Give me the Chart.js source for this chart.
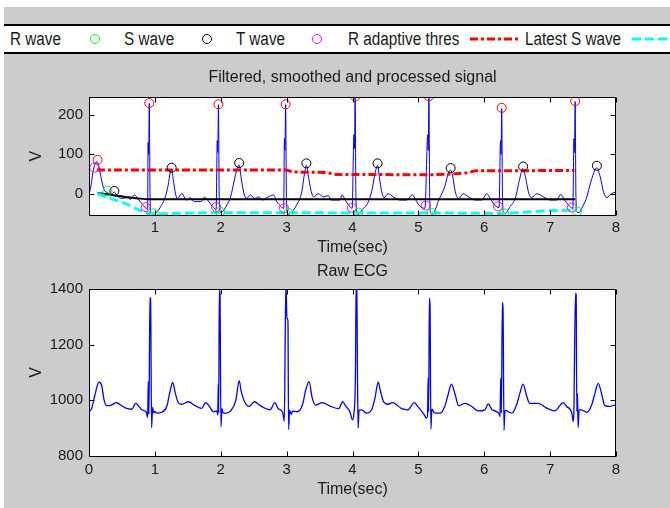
<!DOCTYPE html>
<html>
<head>
<meta charset="utf-8">
<title>ECG</title>
<script src="https://cdn.jsdelivr.net/npm/chart.js"></script>
<style>
  html, body { margin: 0; padding: 0; }
  body { width: 670px; height: 508px; background: #cccccc; position: relative; overflow: hidden;
         font-family: "Liberation Sans", Arial, sans-serif; }
  #topStrip { position: absolute; left: 0; top: 0; width: 670px; height: 7px; background: #fff; }
  #leftStrip { position: absolute; left: 0; top: 0; width: 4px; height: 508px; background: #fff; }
  #legend { position: absolute; left: 4px; top: 24px; width: 700px; height: 26px; background: #fff;
            border-top: 2px solid #000; border-bottom: 2px solid #000; }
  #lgIcons { position: absolute; left: 0; top: 26px; }
  .lg { position: absolute; top: 29px; font-size: 18px; line-height: 20px; color: #1a1a1a;
        transform: scaleX(0.85); transform-origin: 0 0; white-space: nowrap; }
  canvas { position: absolute; left: 0; }
</style>
</head>
<body>
<div id="topStrip"></div>
<div id="leftStrip"></div>
<div id="legend"></div>
<svg id="lgIcons" width="670" height="26"></svg>
<canvas id="filtChart" width="670" height="200" style="top:60px"></canvas>
<canvas id="rawChart" width="670" height="248" style="top:260px"></canvas>
<script>
// ---- data ----
const legendLabels = ['R wave', 'S wave', 'T wave', 'R adaptive thres', 'Latest S wave'];

// filtered, smoothed and processed signal
const filtTime = [0.00,0.03,0.06,0.09,0.12,0.15,0.19,0.23,0.28,0.33,0.385,0.43,0.50,0.57,0.63,0.69,0.74,0.80,0.86,0.89,
  0.897,0.905,0.915,0.927,0.945,0.98,1.03,1.08,1.15,1.20,1.235,1.255,1.28,1.31,1.34,1.41,1.48,1.53,1.60,1.70,1.75,1.80,1.88,1.93,
  1.947,1.955,1.965,1.977,1.995,2.03,2.08,2.15,2.20,2.25,2.28,2.31,2.35,2.39,2.45,2.51,2.58,2.63,2.70,2.80,2.85,2.92,2.955,
  2.967,2.975,2.985,2.997,3.015,3.04,3.08,3.15,3.23,3.27,3.30,3.33,3.37,3.41,3.48,3.56,3.63,3.68,3.81,3.84,3.89,3.94,3.995,
  4.022,4.03,4.04,4.052,4.07,4.10,4.14,4.22,4.29,4.34,4.38,4.41,4.44,4.48,4.54,4.62,4.72,4.82,4.91,4.96,5.02,5.10,
  5.142,5.15,5.16,5.172,5.19,5.22,5.26,5.30,5.40,5.46,5.49,5.52,5.56,5.61,5.68,5.76,5.86,5.96,6.04,6.09,6.16,6.225,
  6.247,6.255,6.265,6.277,6.295,6.32,6.39,6.47,6.54,6.585,6.63,6.67,6.72,6.80,6.90,7.00,7.10,7.16,7.22,7.28,7.345,
  7.362,7.37,7.38,7.392,7.41,7.44,7.48,7.55,7.63,7.71,7.76,7.81,7.86,7.93,8.00];
const filtValue = [-3,20,55,75,81,70,35,10,3,-2,4,-6,-12,-10,-14,-3,-12,-25,-36,-40,
  130,100,229,-10,-50,-53,-47,-35,-12,20,55,61,35,2,-12,0,-16,-10,-20,-20,-9,-16,-33,-40,
  135,105,226,-10,-48,-45,-32,-8,30,65,73,40,2,-12,-3,-12,-8,-16,-10,-3,-20,-33,-38,
  140,110,226,-10,-50,-52,-46,-29,5,50,72,45,8,-8,0,-8,-5,-16,-16,-3,-16,-29,-37,
  150,115,245,-10,-51,-52,-41,-27,5,50,72,40,8,-10,0,-8,-16,-16,-3,-16,-31,-37,
  150,110,244,-10,-50,-52,-40,-20,18,55,60,45,5,-12,0,-8,-16,-16,0,-12,-29,-35,
  135,100,216,-10,-50,-50,-33,-12,39,64,39,5,-10,0,-8,-16,-16,-2,-16,-29,-37,
  140,105,234,-10,-47,-48,-37,-12,37,66,43,5,-10,0,5];

// detected points
const rWaveTime = [0.13, 0.915, 1.965, 2.985, 4.04, 5.16, 6.265, 7.38];
const rWaveValue = [86, 230, 227, 227, 247, 247, 218, 235];
const sWaveTime = [0.28, 0.98, 1.99, 3.03, 4.09, 5.20, 6.30, 7.41];
const sWaveValue = [7, -50, -46, -49, -48, -49, -50, -45];
const tWaveTime = [0.385, 1.255, 2.28, 3.30, 4.38, 5.49, 6.59, 7.71];
const tWaveValue = [7, 66, 78, 77, 77, 65, 69, 71];
const rThresTime = [0.08, 0.86, 1.93, 2.96, 3.99, 5.11, 6.21, 7.33];
const rThresValue = [66, -34, -34, -37, -36, -30, -32, -35];

// running levels
const dashDotTime = [0.12, 3.0, 3.1, 3.6, 3.75, 5.2, 5.5, 5.75, 5.85, 7.37];
const dashDotValue = [60, 60, 55, 54, 49, 48, 50, 53, 58, 59];
const cyanTime = [0.13, 0.55, 0.96, 2.0, 3.03, 4.09, 5.2, 6.3, 6.6, 7.0, 7.41];
const cyanValue = [0, -25, -51, -48, -48, -49, -49, -50, -47, -43, -42];
const blackTime = [0.13, 0.3, 0.45, 0.6, 0.75, 0.92, 2.0, 3.0, 4.0, 5.2, 6.3, 7.38];
const blackValue = [2, -2, -6, -9, -12, -14, -14, -14, -14, -14, -14, -14];

// raw ECG
const rawTime = [0.00,0.04,0.09,0.15,0.19,0.23,0.27,0.34,0.42,0.47,0.55,0.65,0.71,0.75,0.80,0.87,
  0.89,0.90,0.91,0.925,0.935,0.95,0.965,0.98,1.00,1.03,1.10,1.18,1.23,1.27,1.31,1.36,1.41,1.51,1.61,1.71,1.77,1.82,1.89,1.94,
  1.955,1.962,1.969,1.978,1.988,2.003,2.018,2.035,2.08,2.15,2.23,2.28,2.31,2.36,2.43,2.51,2.60,2.66,2.75,2.82,2.87,2.94,
  2.965,2.98,2.99,3.005,3.02,3.03,3.045,3.07,3.09,3.16,3.24,3.29,3.34,3.39,3.44,3.54,3.67,3.79,3.85,3.90,3.96,4.00,
  4.02,4.045,4.055,4.065,4.075,4.085,4.10,4.14,4.21,4.29,4.34,4.39,4.42,4.47,4.54,4.61,4.74,4.84,4.94,4.99,5.09,5.12,
  5.14,5.148,5.156,5.167,5.177,5.19,5.205,5.25,5.33,5.40,5.45,5.50,5.56,5.61,5.71,5.81,5.91,6.01,6.06,6.12,6.22,6.24,
  6.25,6.26,6.275,6.285,6.30,6.315,6.34,6.42,6.49,6.54,6.59,6.64,6.69,6.82,6.94,7.07,7.20,7.25,7.33,7.35,
  7.36,7.385,7.395,7.405,7.415,7.425,7.44,7.47,7.56,7.63,7.68,7.73,7.78,7.83,7.91,7.98,8.00];
const rawValue = [958,971,1019,1065,1055,1001,981,983,992,985,973,968,989,981,966,957,
  938,1067,950,1370,1365,902,975,955,960,954,957,978,1032,1064,1026,990,986,995,981,971,992,981,959,962,
  947,1058,955,1395,1390,905,970,955,954,962,1001,1071,1032,996,978,995,981,973,966,992,971,956,
  925,1265,1420,1295,1285,895,965,950,961,959,983,1037,1067,1007,983,992,978,970,995,978,960,930,
  950,1100,1420,1420,1109,900,965,966,954,966,1007,1065,1038,996,986,992,971,966,992,978,948,936,
  950,1080,960,1367,1340,897,968,954,954,978,1019,1058,1019,981,989,978,962,966,987,966,954,942,
  1079,955,1352,1330,892,965,962,954,983,1025,1058,1019,989,989,973,962,992,978,954,924,
  960,1385,1380,960,1025,902,966,966,957,983,1025,1061,1025,981,978,983,982];

// ticks
const timeTicksTop = [1, 2, 3, 4, 5, 6, 7, 8];
const timeTicksRaw = [0, 1, 2, 3, 4, 5, 6, 7, 8];
const filtYTicks = [0, 100, 200];
const rawYTicks = [800, 1000, 1200, 1400];

// ---- helpers ----
function xy(ts, vs) {
  return ts.map((t, i) => ({x: t, y: vs[i]}));
}

Chart.defaults.font.family = '"Liberation Sans", Arial, sans-serif';
Chart.defaults.font.size = 15;
Chart.defaults.color = '#1a1a1a';

// white axes area, black box, ticks pointing inside on all four sides
const matlabAxes = {
  id: 'matlabAxes',
  beforeDraw(chart) {
    const {ctx, chartArea: a} = chart;
    ctx.save();
    ctx.fillStyle = '#fff';
    ctx.fillRect(a.left, a.top, a.right - a.left, a.bottom - a.top);
    ctx.restore();
  },
  afterDraw(chart) {
    const {ctx, chartArea: a, scales} = chart;
    const l = Math.round(a.left) + 0.5, r = Math.round(a.right) - 0.5;
    const t = Math.round(a.top) + 0.5, b = Math.round(a.bottom) + 0.5;
    ctx.save();
    ctx.strokeStyle = '#000';
    ctx.lineWidth = 1;
    ctx.strokeRect(l, t, r - l, b - t);
    ctx.beginPath();
    scales.x.ticks.forEach(tk => {
      const px = Math.round(scales.x.getPixelForValue(tk.value)) + 0.5;
      ctx.moveTo(px, b); ctx.lineTo(px, b - 5);
      ctx.moveTo(px, t); ctx.lineTo(px, t + 5);
    });
    scales.y.ticks.forEach(tk => {
      const py = Math.round(scales.y.getPixelForValue(tk.value)) + 0.5;
      ctx.moveTo(l, py); ctx.lineTo(l + 5, py);
      ctx.moveTo(r, py); ctx.lineTo(r - 5, py);
    });
    ctx.stroke();
    ctx.restore();
  }
};

function circles(ts, vs, color) {
  return {data: xy(ts, vs), showLine: false, pointStyle: 'circle', pointRadius: 4.5,
          pointBorderWidth: 1, pointBorderColor: color, pointBackgroundColor: 'rgba(0,0,0,0)', clip: 0};
}

function axisX(ticks, height, tickPad, titlePad) {
  return {
    type: 'linear', min: 0, max: 8,
    grid: {display: false, drawTicks: false}, border: {display: false},
    afterBuildTicks: s => { s.ticks = ticks.map(v => ({value: v})); },
    ticks: {padding: tickPad, maxRotation: 0, autoSkip: false, callback: v => String(v)},
    title: {display: true, text: 'Time(sec)', font: {size: 16}, padding: {top: 0, bottom: titlePad}},
    afterFit: s => { s.height = height; }
  };
}

function axisY(min, max, ticks) {
  return {
    type: 'linear', min: min, max: max,
    grid: {display: false, drawTicks: false}, border: {display: false},
    afterBuildTicks: s => { s.ticks = ticks.map(v => ({value: v})); },
    ticks: {padding: 6, autoSkip: false, callback: v => String(v)},
    title: {display: true, text: 'V', font: {size: 16}, padding: {top: 27.4, bottom: 0}},
    afterFit: s => { s.width = 89; }
  };
}

function panelTitle(text, padTop, padBottom) {
  // fullSize false: centred over the axes box, not the whole canvas
  return {display: true, text: text, fullSize: false, font: {size: 16, weight: 'normal'},
          color: '#1a1a1a', padding: {top: padTop, bottom: padBottom}};
}

const common = {
  responsive: false,
  animation: false,
  devicePixelRatio: 1,
  layout: {padding: {left: 0, right: 54, top: 0, bottom: 0}},
  elements: {point: {radius: 0}},
};

// ---- top panel ----
new Chart(document.getElementById('filtChart'), {
  type: 'line',
  data: {
    datasets: [
      circles(rWaveTime, rWaveValue, '#ff0000'),
      circles(sWaveTime, sWaveValue, '#00ff00'),
      circles(tWaveTime, tWaveValue, '#000000'),
      circles(rThresTime, rThresValue, '#ff00ff'),
      {data: xy(dashDotTime, dashDotValue), borderColor: '#ff0000', borderWidth: 3,
       borderDash: [8, 3, 3, 3], pointRadius: 0, clip: 0},
      {data: xy(cyanTime, cyanValue), borderColor: '#00ffff', borderWidth: 3,
       borderDash: [9, 4], pointRadius: 0, clip: 0, cubicInterpolationMode: 'monotone'},
      {data: xy(blackTime, blackValue), borderColor: '#000000', borderWidth: 2,
       pointRadius: 0, clip: 0, cubicInterpolationMode: 'monotone'},
      {data: xy(filtTime, filtValue), borderColor: '#0000ff', borderWidth: 1,
       pointRadius: 0, clip: 0, cubicInterpolationMode: 'monotone'}
    ]
  },
  options: Object.assign({}, common, {
    scales: {
      x: axisX(timeTicksTop, 45, 4, 2.4),
      y: axisY(-54, 245, filtYTicks)
    },
    plugins: {
      legend: {display: false},
      tooltip: {enabled: false},
      title: panelTitle('Filtered, smoothed and processed signal', 8, 10)
    }
  }),
  plugins: [matlabAxes]
});

// ---- bottom panel ----
new Chart(document.getElementById('rawChart'), {
  type: 'line',
  data: {
    datasets: [
      {data: xy(rawTime, rawValue), borderColor: '#0000ff', borderWidth: 1.3,
       pointRadius: 0, clip: 0, cubicInterpolationMode: 'monotone'}
    ]
  },
  options: Object.assign({}, common, {
    scales: {
      x: axisX(timeTicksRaw, 52, 5, 8.4),
      y: axisY(800, 1400, rawYTicks)
    },
    plugins: {
      legend: {display: false},
      tooltip: {enabled: false},
      title: panelTitle('Raw ECG', 2.4, 7.4)
    }
  }),
  plugins: [matlabAxes]
});

// ---- legend strip (cut off at both ends, like the screenshot) ----
const legendTextX = [10, 124, 236, 348, 525];
legendLabels.forEach((lbl, i) => {
  const s = document.createElement('span');
  s.className = 'lg';
  s.style.left = legendTextX[i] + 'px';
  s.textContent = lbl;
  document.body.appendChild(s);
});
document.getElementById('lgIcons').innerHTML =
  '<circle cx="95" cy="13" r="4.5" fill="none" stroke="#00ff00" stroke-width="1"/>' +
  '<circle cx="207" cy="13" r="4.5" fill="none" stroke="#000000" stroke-width="1"/>' +
  '<circle cx="317" cy="13" r="4.5" fill="none" stroke="#ff00ff" stroke-width="1"/>' +
  '<line x1="470" y1="13" x2="518" y2="13" stroke="#ff0000" stroke-width="3" stroke-dasharray="8 3 3 3"/>' +
  '<line x1="632" y1="13" x2="680" y2="13" stroke="#00ffff" stroke-width="3" stroke-dasharray="9 4"/>';
</script>
</body>
</html>
